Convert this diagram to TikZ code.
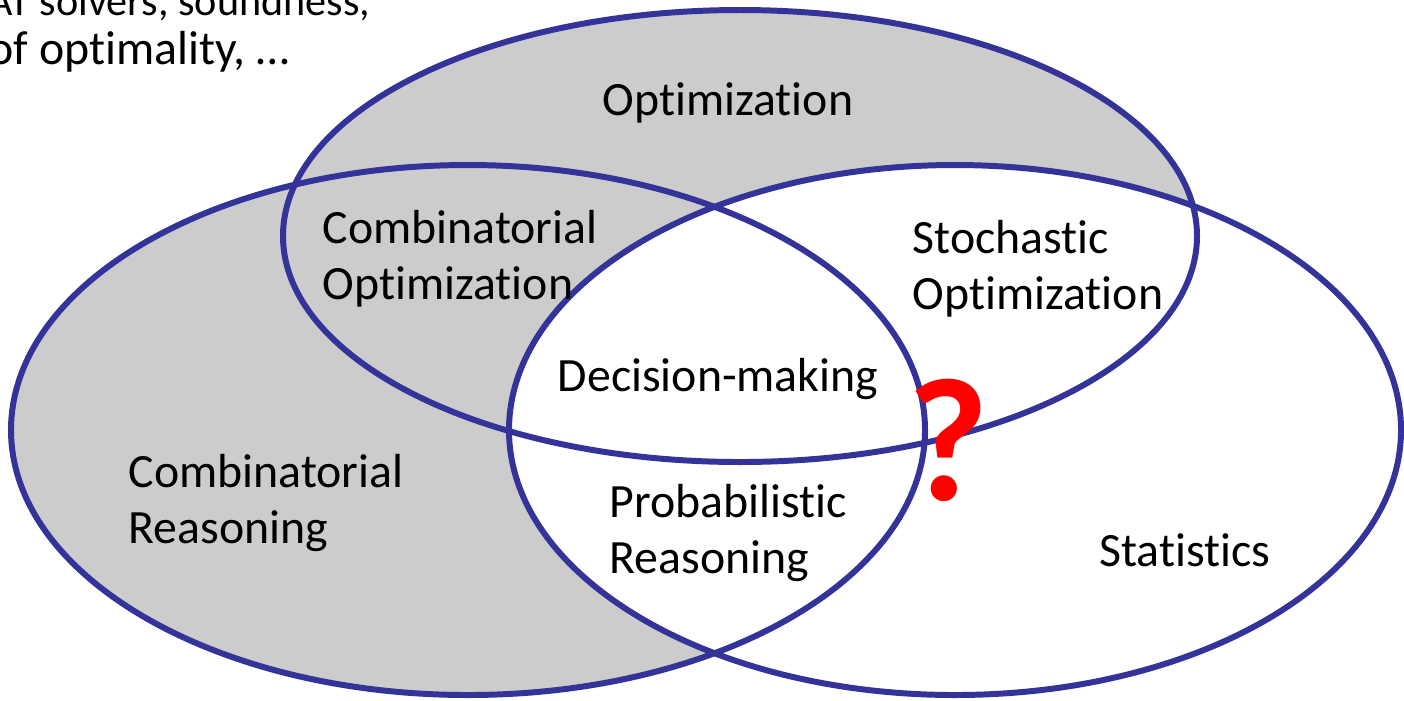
\documentclass[tikz,border=0pt]{standalone}
\usepackage{fontspec}
\setmainfont{Carlito}[Ligatures=NoCommon]
\usepackage{tikz}
\usepackage{xcolor}
\definecolor{setblue}{RGB}{51,51,153}
\definecolor{setgray}{RGB}{204,204,204}

\begin{document}
\begin{tikzpicture}[set/.style={draw=setblue,line width=1.7pt},
	lbl/.style={font=\fontsize{13.6}{15.9}\selectfont,inner sep=0pt,align=left}]
	\clip (0,0) rectangle (14.04,7);
	% shaded regions
	\fill[setgray] (7.40,4.64) ellipse (4.57 and 2.26);
	\fill[setgray] (4.68,2.70) ellipse (4.57 and 2.65);
	\fill[white] (9.55,2.70) ellipse (4.46 and 2.65);
	% outlines
	\draw[set] (7.40,4.64) ellipse (4.57 and 2.26);
	\draw[set] (4.68,2.70) ellipse (4.57 and 2.65);
	\draw[set] (9.55,2.70) ellipse (4.46 and 2.65);
	% labels (base = last line)
	\node[lbl,anchor=base west,font=\fontsize{12}{14}\selectfont] (note1) at (-0.12,6.85) {AT solvers, soundness,};
	\node[lbl,anchor=base west] (note2) at (-0.12,6.36) {of optimality, …};
	\node[lbl,anchor=base] (opt) at (7.28,5.85) {Optimization};
	\node[lbl,anchor=base west] (combopt) at (3.22,4.01) {Combinatorial\\Optimization};
	\node[lbl,anchor=base west] (stochopt) at (9.12,3.91) {Stochastic\\Optimization};
	\node[lbl,anchor=base] (decision) at (7.18,3.09) {Decision-making};
	\node[lbl,anchor=base west] (combreas) at (1.28,1.57) {Combinatorial\\Reasoning};
	\node[lbl,anchor=base west] (probreas) at (6.09,1.27) {Probabilistic\\Reasoning};
	\node[lbl,anchor=base] (stats) at (11.85,1.34) {Statistics};
	\node[inner sep=0pt,anchor=base,text=red,font=\fontsize{50}{50}\selectfont\bfseries] (ques) at (9.48,2.00) {?};
\end{tikzpicture}
\end{document}
